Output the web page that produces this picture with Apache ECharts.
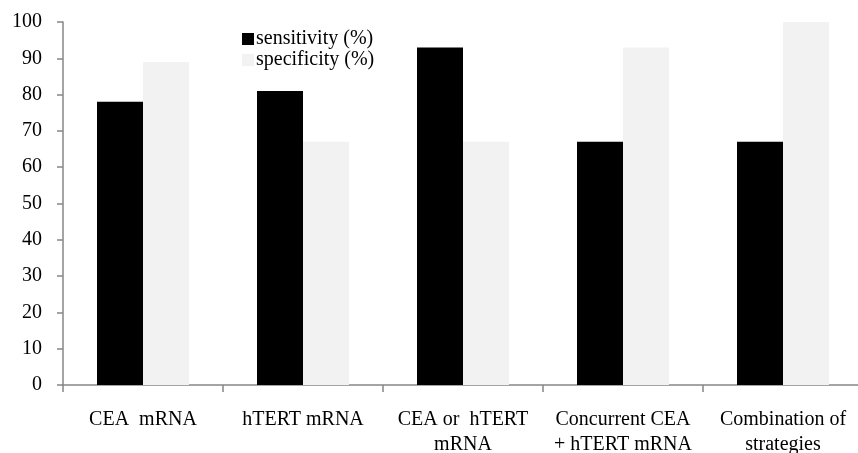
<!DOCTYPE html>
<html><head><meta charset="utf-8">
<script src="https://cdn.jsdelivr.net/npm/echarts@6/dist/echarts.min.js"></script>
<style>html,body{margin:0;padding:0;background:#fff}#c{width:858px;height:453px}</style>
</head><body><div id="c"></div>
<script>
const categories = ['CEA  mRNA', 'hTERT mRNA', 'CEA or  hTERT\nmRNA', 'Concurrent CEA\n+ hTERT mRNA', 'Combination of\nstrategies'];
const sensitivity = [78, 81, 93, 67, 67];
const specificity = [89, 67, 67, 93, 100];
const yTicks = { min: 0, max: 100, interval: 10 };

const font = 'Liberation Serif';
const chart = echarts.init(document.getElementById('c'));
chart.setOption({
  animation: false,
  grid: { left: 63, top: 22, bottom: 68, right: -5, containLabel: false, outerBoundsMode: 'none' },
  legend: {
    orient: 'vertical', left: 237, top: 24, itemWidth: 12, itemHeight: 12, itemGap: 1,
    icon: 'rect',
    textStyle: { fontFamily: font, fontSize: 20, color: '#000', padding: [0, 0, 0, -3] },
    data: ['sensitivity (%)', 'specificity (%)']
  },
  xAxis: {
    type: 'category', data: categories,
    axisLine: { lineStyle: { color: '#868686', width: 1.5 } },
    axisTick: { show: true, length: 7, lineStyle: { color: '#868686', width: 1.5 } },
    axisLabel: { fontFamily: font, fontSize: 20, color: '#000', margin: 22, lineHeight: 25, interval: 0 }
  },
  yAxis: {
    type: 'value', min: yTicks.min, max: yTicks.max, interval: yTicks.interval,
    splitLine: { show: false },
    axisLine: { show: true, lineStyle: { color: '#868686', width: 1.5 } },
    axisTick: { show: true, length: 6, lineStyle: { color: '#868686', width: 1.5 } },
    axisLabel: { fontFamily: font, fontSize: 20, color: '#000', margin: 21 }
  },
  series: [
    { name: 'sensitivity (%)', type: 'bar', data: sensitivity, barGap: '0%', barCategoryGap: '42.5%', itemStyle: { color: '#000' } },
    { name: 'specificity (%)', type: 'bar', data: specificity, itemStyle: { color: '#f2f2f2' } }
  ]
});
</script></body></html>
